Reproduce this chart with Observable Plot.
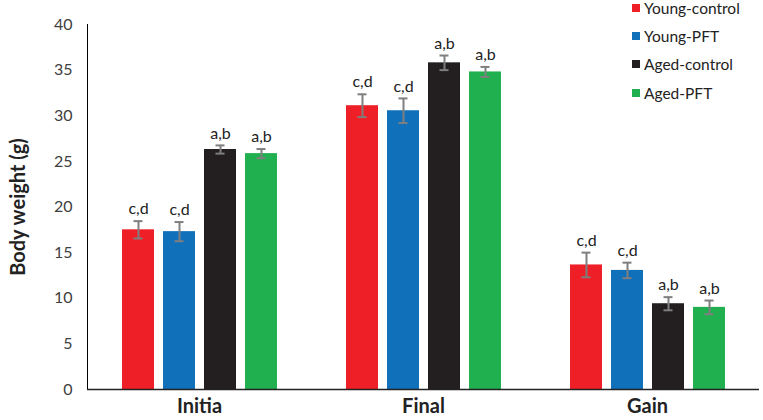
<!DOCTYPE html>
<html>
<head>
<meta charset="utf-8">
<script src="https://cdn.jsdelivr.net/npm/d3@7"></script>
<script src="https://cdn.jsdelivr.net/npm/@observablehq/plot@0.6"></script>
<style>
  html, body { margin: 0; padding: 0; background: #fff; }
  #wrap { position: relative; width: 763px; height: 420px; font-family: Lato, "Open Sans", sans-serif; }
  #wrap svg text { font-family: Lato, "Open Sans", sans-serif; }
  g[aria-label="y-axis tick label"] { font-size: 16px; fill: #404040; }
  g[aria-label="y-axis label"] { font-size: 20px; font-weight: bold; fill: #222; }
  g[aria-label="fx-axis tick label"] { font-size: 20px; font-weight: bold; fill: #222; }
  #legend { position: absolute; left: 632px; top: 0; font-size: 15.5px; color: #222; }
  #legend .row { position: absolute; left: 0; white-space: nowrap; display: flex; align-items: center; height: 18px; }
  #legend .sw { width: 8px; height: 8px; margin-right: 4px; }
</style>
</head>
<body>
<div id="wrap"><div id="legend"></div></div>
<script>
const groups = ["Initia", "Final", "Gain"];
const series = ["Young-control", "Young-PFT", "Aged-control", "Aged-PFT"];
const colors = ["#ee1f26", "#1170ba", "#231f20", "#21b04f"];
const initiaValues = [17.5, 17.3, 26.3, 25.85];
const initiaErrors = [0.95, 1.05, 0.45, 0.5];
const finalValues = [31.1, 30.55, 35.8, 34.8];
const finalErrors = [1.25, 1.35, 0.8, 0.55];
const gainValues = [13.65, 13.05, 9.4, 9.0];
const gainErrors = [1.35, 0.85, 0.72, 0.75];
const letters = ["c,d", "c,d", "a,b", "a,b"];
const yTicks = [0, 5, 10, 15, 20, 25, 30, 35, 40];

const valueSets = [initiaValues, finalValues, gainValues];
const errorSets = [initiaErrors, finalErrors, gainErrors];
const data = [];
groups.forEach((g, gi) => {
  series.forEach((s, si) => {
    data.push({group: g, series: s, value: valueSets[gi][si], err: errorSets[gi][si], label: letters[si]});
  });
});

const chart = Plot.plot({
  width: 763,
  height: 420,
  marginLeft: 87,
  marginRight: 4,
  marginTop: 24,
  marginBottom: 31,
  style: {background: "#fff"},
  fx: {domain: groups, padding: 0, axis: "bottom", label: null, tickSize: 0, tickPadding: 9},
  x: {domain: series, axis: null, paddingInner: 0.22, paddingOuter: 0.84},
  y: {domain: [0, 40], ticks: yTicks, tickSize: 0, tickPadding: 15, line: true,
      label: "Body weight (g)", labelAnchor: "center", labelOffset: 77, labelArrow: "none"},
  color: {domain: series, range: colors},
  marks: [
    Plot.barY(data, {fx: "group", x: "series", y: "value", fill: "series"}),
    Plot.ruleX(data, {fx: "group", x: "series", y1: d => d.value - d.err, y2: d => d.value + d.err, stroke: "#7f7f7f", strokeWidth: 2}),
    Plot.tickY(data, {fx: "group", x: "series", y: d => d.value + d.err, stroke: "#7f7f7f", strokeWidth: 2, insetLeft: 11.5, insetRight: 11.5}),
    Plot.tickY(data, {fx: "group", x: "series", y: d => d.value - d.err, stroke: "#7f7f7f", strokeWidth: 2, insetLeft: 11.5, insetRight: 11.5}),
    Plot.text(data, {fx: "group", x: "series", y: d => d.value + d.err, text: "label", dy: -12, fontSize: 16, fill: "#222"}),
    Plot.ruleY([0], {stroke: "#222", strokeWidth: 1.5})
  ]
});
document.getElementById("wrap").appendChild(chart);

const legend = document.getElementById("legend");
const rowTops = [-1, 27, 55, 84];
series.forEach((s, i) => {
  const row = document.createElement("div");
  row.className = "row";
  row.style.top = rowTops[i] + "px";
  const sw = document.createElement("div");
  sw.className = "sw";
  sw.style.background = colors[i];
  row.appendChild(sw);
  const t = document.createElement("span");
  t.textContent = s;
  row.appendChild(t);
  legend.appendChild(row);
});
</script>
</body>
</html>
